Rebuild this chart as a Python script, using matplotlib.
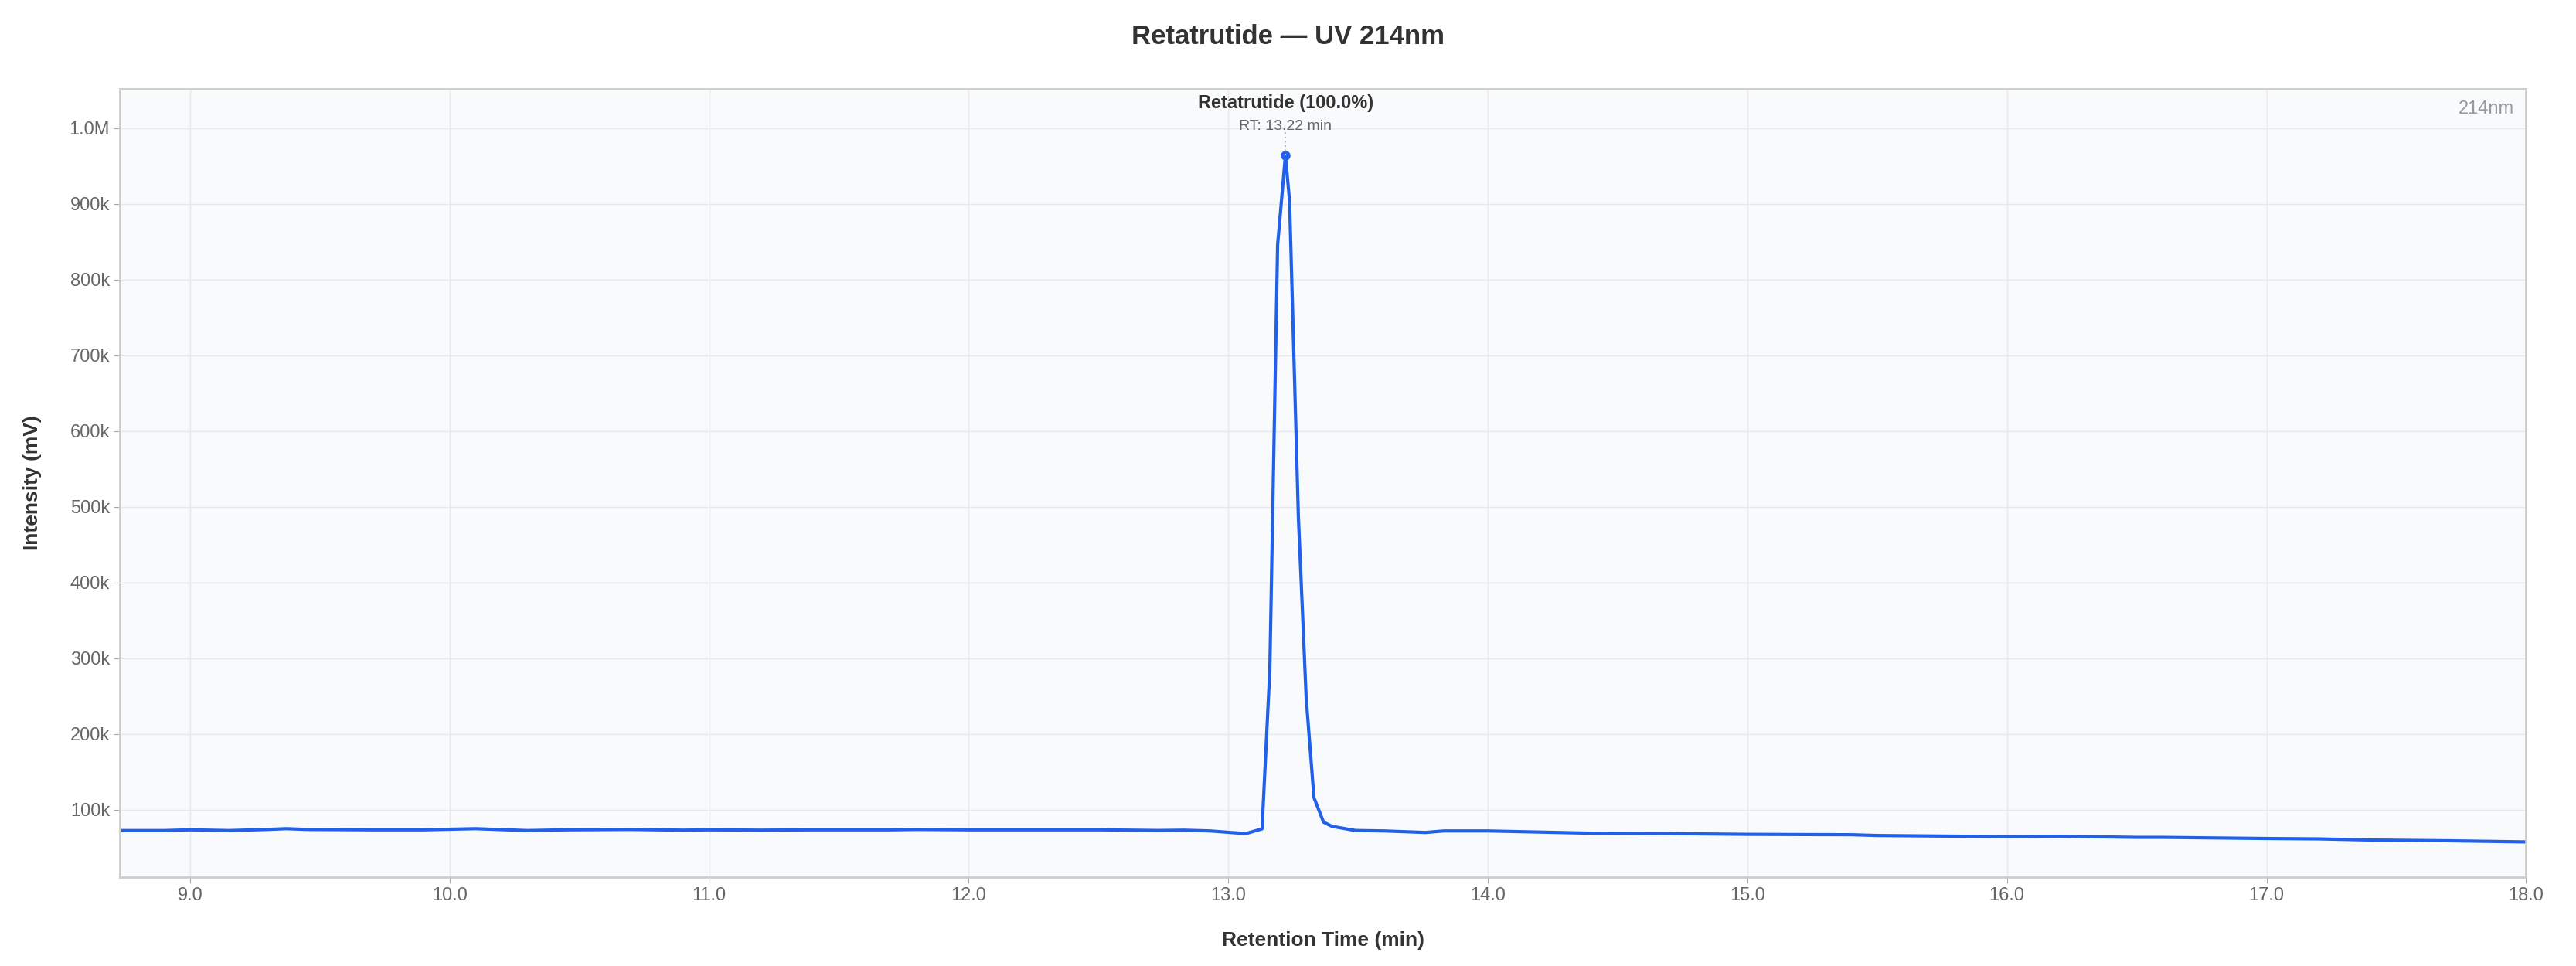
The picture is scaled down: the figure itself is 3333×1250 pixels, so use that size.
import matplotlib
matplotlib.use("Agg")
import matplotlib.pyplot as plt
from matplotlib.ticker import FuncFormatter

plt.rcParams["font.family"] = ["Liberation Sans", "DejaVu Sans"]

# retention time (min) and intensity (mV)
rt = [8.73, 8.9, 9.0, 9.15, 9.3, 9.37, 9.45, 9.7, 9.9, 10.1, 10.3, 10.45, 10.7, 10.9, 11.0,
      11.2, 11.4, 11.7, 11.8, 12.0, 12.3, 12.5, 12.73, 12.83, 12.93, 13.067, 13.13, 13.16,
      13.19, 13.22, 13.236, 13.27, 13.30, 13.33, 13.367, 13.40, 13.49, 13.6, 13.76, 13.83,
      14.0, 14.2, 14.4, 14.7, 15.0, 15.4, 15.5, 16.0, 16.2, 16.5, 16.6, 17.0, 17.2, 17.4, 17.7, 18.0]
intensity = [72.5e3, 72.5e3, 73.5e3, 72.5e3, 74e3, 75e3, 74e3, 73.5e3, 73.5e3, 75e3, 72.5e3, 73.5e3, 74e3, 73e3, 73.5e3,
             73e3, 73.5e3, 73.5e3, 74e3, 73.5e3, 73.5e3, 73.5e3, 72.6e3, 73e3, 72e3, 68.5e3, 74.7e3, 285e3,
             846e3, 964e3, 904e3, 487e3, 248e3, 116e3, 83.6e3, 78e3, 72.6e3, 72e3, 70e3, 72e3,
             72e3, 70.5e3, 69e3, 68.5e3, 67.5e3, 67e3, 66e3, 64.5e3, 65e3, 63.5e3, 63.5e3, 62e3, 61.5e3, 60e3, 59e3, 57.5e3]

peak_rt = 13.22
peak_val = 964e3
peak_name = "Retatrutide (100.0%)"

fig = plt.figure(figsize=(33.33, 12.5), dpi=100)
ax = fig.add_axes([0.0466, 0.092, 0.934, 0.816])
ax.set_facecolor("#f8fafc")
ax.plot(rt, intensity, color="#2160e8", lw=3)
ax.plot([peak_rt], [peak_val], "o", color="#2160e8", ms=8)
ax.plot([peak_rt, peak_rt], [peak_val, 995e3], ls=":", color="#bbbbbb", lw=1.5)
ax.text(peak_rt, 1.003e6, "RT: 13.22 min", ha="center", va="center", fontsize=14, color="#666666")
ax.text(peak_rt, 1.033e6, peak_name, ha="center", va="center", fontsize=17, fontweight="bold", color="#333333")
ax.text(0.995, 0.985, "214nm", transform=ax.transAxes, ha="right", va="top", fontsize=17, color="#999999")

ax.set_xlim(8.73, 18.0)
ax.set_ylim(11e3, 1.052e6)
ax.set_xticks([9, 10, 11, 12, 13, 14, 15, 16, 17, 18])
ax.xaxis.set_major_formatter(FuncFormatter(lambda v, p: f"{v:.1f}"))
ax.set_yticks([1e5 * i for i in range(1, 11)])
ax.yaxis.set_major_formatter(FuncFormatter(lambda v, p: "1.0M" if v >= 1e6 else f"{v/1e3:.0f}k"))
ax.grid(True, color="#e6e8ec", lw=1)
ax.set_axisbelow(True)
ax.tick_params(labelsize=17, colors="#666666", length=6, color="#aaaaaa")
for s in ax.spines.values():
    s.set_color("#cccccc")
    s.set_linewidth(2)

ax.set_xlabel("Retention Time (min)", fontsize=19, fontweight="bold", color="#333333", labelpad=25)
ax.set_ylabel("Intensity (mV)", fontsize=19, fontweight="bold", color="#333333", labelpad=26)
fig.suptitle("Retatrutide — UV 214nm", fontsize=25, fontweight="bold", color="#333333", y=0.975)

fig.savefig("out.png", dpi=100, facecolor="white")
